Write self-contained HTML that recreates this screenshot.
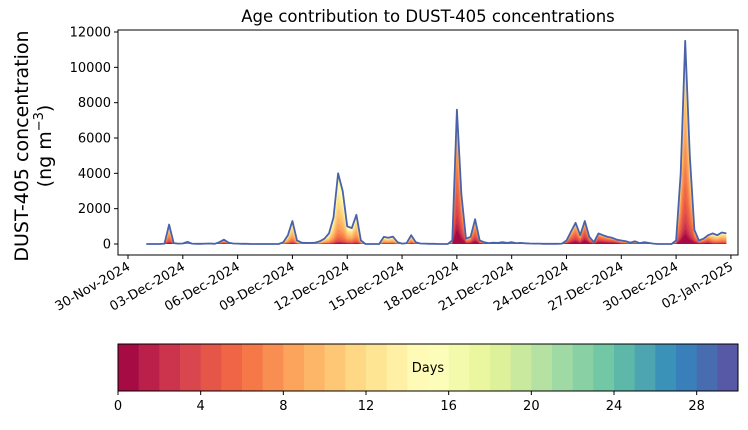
<!DOCTYPE html>
<html><head><meta charset="utf-8"><style>
html,body{margin:0;padding:0;background:#fff}
svg text{font-family:"DejaVu Sans","Liberation Sans",sans-serif;fill:#000}
</style></head><body>
<svg id="chart" width="748" height="425" viewBox="0 0 748 425" xmlns="http://www.w3.org/2000/svg">
<text x="428" y="22" font-size="16.5" text-anchor="middle">Age contribution to DUST-405 concentrations</text>
<g transform="translate(28,146) rotate(-90)">
<text x="0" y="0" font-size="19" text-anchor="middle">DUST-405 concentration</text>
<text x="0" y="23" font-size="19" text-anchor="middle">(ng m<tspan dy="-8" font-size="13">−3</tspan><tspan dy="8">)</tspan></text>
</g>
<g id="plot"></g>
<g id="axes"></g>
<g id="cbar"></g>
</svg>
<script>
// values every 6 hours starting 01-Dec-2024 00:00 (4 per day)
const totals = [
0,0,0,0,        20,1100,50,20,   30,120,20,10,   10,20,30,10,
100,250,80,30,  20,10,10,0,      0,0,0,0,        0,0,100,500,
1300,200,80,60, 60,80,150,300,   600,1500,4000,3000, 1000,900,1650,200,
0,0,0,0,        400,350,420,100, 20,50,500,100,  30,20,10,10,
0,0,0,200,      7600,2800,300,400, 1400,200,100,50, 80,60,100,60,
100,50,60,40,   30,20,20,10,     10,10,10,20,    200,700,1200,500,
1300,400,100,600, 500,400,350,250, 200,150,80,150, 50,100,60,20,
0,0,0,0,        200,4000,11500,5000, 800,200,300,500, 600,500,650,600
];
// typical age (days) per day from 01-Dec
const meanAge = [10,8,10,10,7,9,10,10,10,10,11,10,10,10,9,9,9,6,6,8,8,9,9,6,5,5,7,8,9,8,6,9];
const yTicks = [0,2000,4000,6000,8000,10000,12000];
const xTickLabels = ["30-Nov-2024","03-Dec-2024","06-Dec-2024","09-Dec-2024","12-Dec-2024","15-Dec-2024","18-Dec-2024","21-Dec-2024","24-Dec-2024","27-Dec-2024","30-Dec-2024","02-Jan-2025"];
const cbarTicks = [0,4,8,12,16,20,24,28];
const nAge = 30;

const NS="http://www.w3.org/2000/svg";
const L=118,R=738,T=30,B=255;
const y0=244, yPer=212/12000;
const x0=128, dayPx=18.27;
const xs = d => x0 + d*dayPx;
const ys = v => y0 - v*yPer;
const spectral=["#9e0142","#d53e4f","#f46d43","#fdae61","#fee08b","#ffffbf","#e6f598","#abdda4","#66c2a5","#3288bd","#5e4fa2"];
function hex(c){return [1,3,5].map(i=>parseInt(c.substr(i,2),16));}
function cmap(t){const p=t*10,i=Math.min(9,Math.floor(p)),f=p-i;const a=hex(spectral[i]),b=hex(spectral[i+1]);
 return "rgb("+a.map((v,k)=>Math.round(v+(b[k]-v)*f)).join(",")+")";}
function mk(tag,attrs,parent){const e=document.createElementNS(NS,tag);for(const k in attrs)e.setAttribute(k,attrs[k]);parent.appendChild(e);return e;}
function cdf(x,m){const z=(x-m)/4;return 1/(1+Math.exp(-1.7*z));}

const plot=document.getElementById('plot'), axes=document.getElementById('axes'), cbar=document.getElementById('cbar');
const dayOf = i => 1 + i/4;
for(let k=nAge-1;k>=0;k--){
  let pts=[];
  totals.forEach((v,i)=>{const m=meanAge[Math.min(meanAge.length-1,Math.floor(i/4))];
    const frac = k===nAge-1?1:Math.min(1,cdf(k+1,m));
    pts.push(xs(dayOf(i)).toFixed(1)+","+ys(v*frac).toFixed(1));});
  pts.push(xs(dayOf(totals.length-1)).toFixed(1)+","+y0);
  pts.push(xs(dayOf(0)).toFixed(1)+","+y0);
  const p=mk('polygon',{points:pts.join(" "),fill:cmap((k+0.5)/nAge),stroke:'none'},plot);
  
  
}
const line=mk('polyline',{points:totals.map((v,i)=>xs(dayOf(i)).toFixed(1)+","+ys(v).toFixed(1)).join(" "),fill:'none',stroke:'#4a62aa','stroke-width':1.8,'stroke-linejoin':'round'},plot);



const frame=mk('rect',{x:L,y:T,width:R-L,height:B-T,fill:'none',stroke:'#000','stroke-width':1},axes);


yTicks.forEach(v=>{const y=ys(v);
  mk('line',{x1:L-4,x2:L,y1:y,y2:y,stroke:'#000'},axes);
  const t=mk('text',{x:L-7,y:y+4.5,'font-size':13,'text-anchor':'end'},axes);t.textContent=v;
  
  });
xTickLabels.forEach((s,i)=>{const x=xs(i*3);
  mk('line',{x1:x,x2:x,y1:B,y2:B+4,stroke:'#000'},axes);
  const t=mk('text',{x:x+3,y:B+14,'font-size':13,'text-anchor':'end',transform:'rotate(-30 '+(x+3)+' '+(B+14)+')'},axes);t.textContent=s;
  
  });

const cL=118,cR=738,cT=344,cB=391,cw=(cR-cL)/nAge;
for(let k=0;k<nAge;k++){const r=mk('rect',{x:cL+k*cw,y:cT,width:cw+0.5,height:cB-cT,fill:cmap((k+0.5)/nAge)},cbar);
  
  }
mk('rect',{x:cL,y:cT,width:cR-cL,height:cB-cT,fill:'none',stroke:'#000'},cbar);
const dl=mk('text',{x:(cL+cR)/2,y:372,'font-size':13,'text-anchor':'middle'},cbar);dl.textContent='Days';


cbarTicks.forEach(v=>{const x=cL+v*cw;
  mk('line',{x1:x,x2:x,y1:cB,y2:cB+4,stroke:'#000'},cbar);
  const t=mk('text',{x:x,y:cB+19,'font-size':13,'text-anchor':'middle'},cbar);t.textContent=v;
  
  });
</script>
</body></html>
